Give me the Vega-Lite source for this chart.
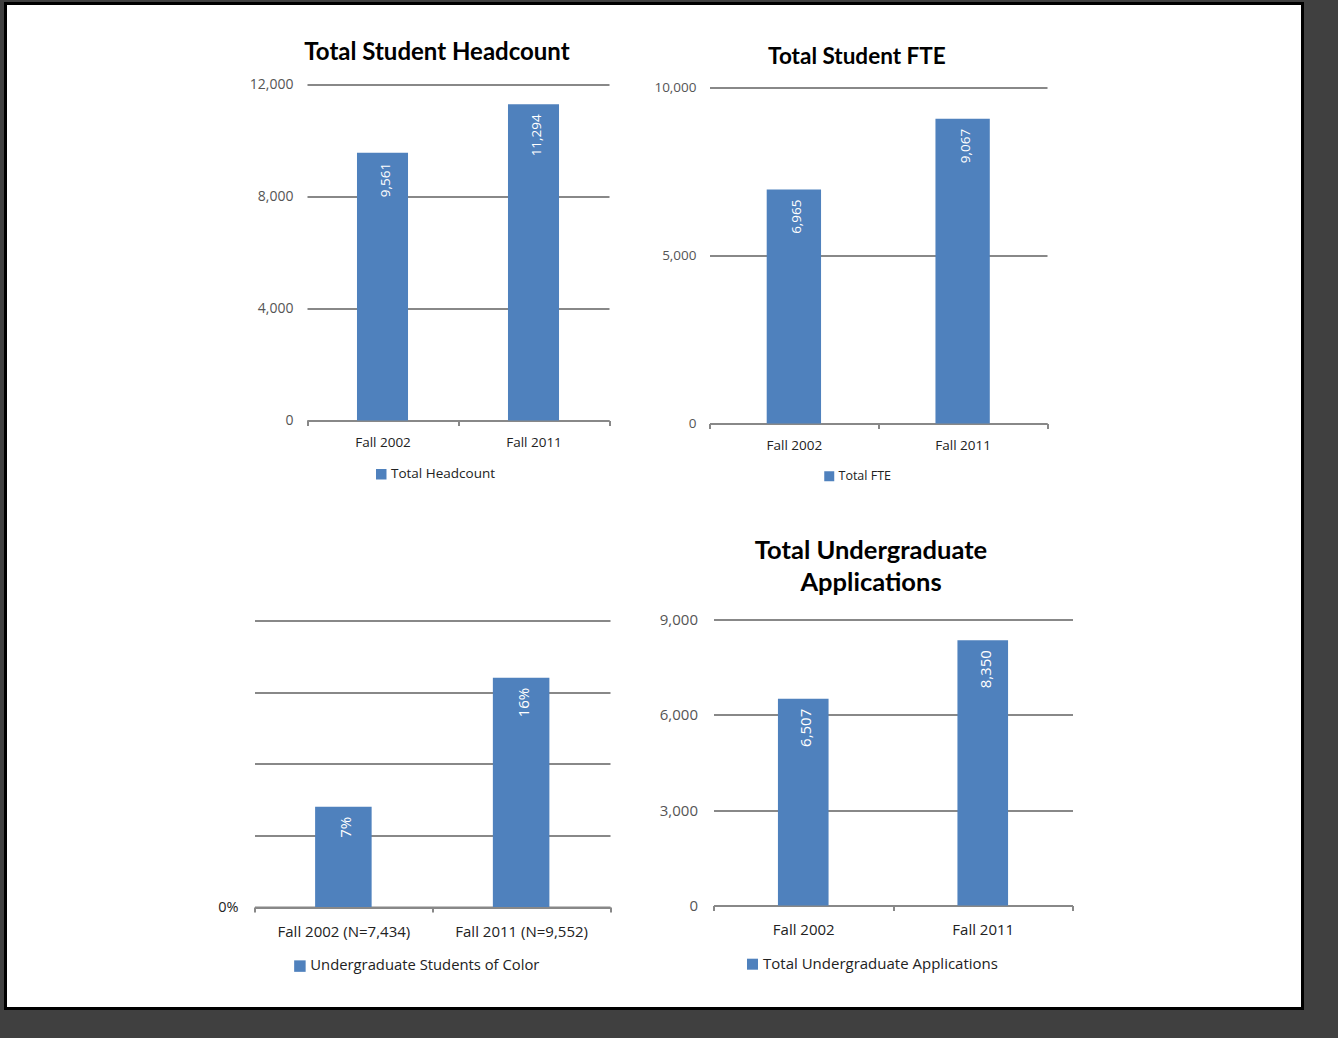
{
  "$schema": "https://vega.github.io/schema/vega-lite/v6.json",
  "width": 1297,
  "height": 1005,
  "autosize": {"type": "none"},
  "padding": {"left": 5.5, "top": 3.5, "right": 35.5, "bottom": 29.5},
  "background": "#404040",
  "datasets": {
    "headcount": [
      {"term": "Fall 2002", "value": 9561, "series": "Total Headcount"},
      {"term": "Fall 2011", "value": 11294, "series": "Total Headcount"}
    ],
    "fte": [
      {"term": "Fall 2002", "value": 6965, "series": "Total FTE"},
      {"term": "Fall 2011", "value": 9067, "series": "Total FTE"}
    ],
    "color": [
      {"term": "Fall 2002 (N=7,434)", "value": 0.07, "series": "Undergraduate Students of Color"},
      {"term": "Fall 2011 (N=9,552)", "value": 0.16, "series": "Undergraduate Students of Color"}
    ],
    "apps": [
      {"term": "Fall 2002", "value": 6507, "series": "Total Undergraduate Applications"},
      {"term": "Fall 2011", "value": 8350, "series": "Total Undergraduate Applications"}
    ]
  },
  "layer": [
    {
      "data": {"name": "headcount"},
      "encoding": {
        "x": {
          "field": "term", "type": "nominal", "sort": null,
          "scale": {"type": "band", "range": [301.5, 603.5], "paddingInner": 0, "paddingOuter": 0},
          "axis": {
            "orient": "bottom", "offset": -588, "grid": false, "tickBand": "extent", "tickSize": 5,
            "labelPadding": 10, "labelFontSize": 13.5, "labelColor": "#222222", "labelAngle": 0,
            "title": "Total Student Headcount", "titleX": 431, "titleY": -360.8, "titleAngle": 0,
            "titleAlign": "center", "titleBaseline": "alphabetic", "titleFontSize": 24
          }
        },
        "y": {
          "field": "value", "type": "quantitative",
          "scale": {"domain": [0, 12000], "range": [417, 81], "nice": false, "zero": true},
          "axis": {
            "orient": "left", "offset": -301.5, "values": [0, 4000, 8000, 12000], "format": ",.0f",
            "domain": false, "ticks": false, "tickSize": 0, "labelPadding": 14, "labelFontSize": 14,
            "grid": true, "title": null
          }
        }
      },
      "layer": [
        {
          "mark": {"type": "bar", "width": {"band": 0.338}},
          "encoding": {
            "color": {
              "field": "series", "type": "nominal", "scale": {"range": ["#4f81bd"]},
              "legend": {"orient": "none", "legendX": 369, "legendY": 464, "title": null, "labelFontSize": 13.5, "symbolSize": 110}
            }
          }
        },
        {
          "mark": {"type": "text", "angle": 270, "align": "right", "baseline": "middle", "dx": -10, "dy": 3, "font": "Open Sans", "fontSize": 13.5, "color": "#ffffff"},
          "encoding": {"text": {"field": "value", "type": "quantitative", "format": ","}}
        }
      ]
    },
    {
      "data": {"name": "fte"},
      "encoding": {
        "x": {
          "field": "term", "type": "nominal", "sort": null,
          "scale": {"type": "band", "range": [704, 1041.5], "paddingInner": 0, "paddingOuter": 0},
          "axis": {
            "orient": "bottom", "offset": -585, "grid": false, "tickBand": "extent", "tickSize": 5,
            "labelPadding": 10, "labelFontSize": 13.5, "labelColor": "#222222", "labelAngle": 0,
            "title": "Total Student FTE", "titleX": 850.9, "titleY": -360.2, "titleAngle": 0,
            "titleAlign": "center", "titleBaseline": "alphabetic", "titleFontSize": 22.5
          }
        },
        "y": {
          "field": "value", "type": "quantitative",
          "scale": {"domain": [0, 10000], "range": [420, 84], "nice": false, "zero": true},
          "axis": {
            "orient": "left", "offset": -704, "values": [0, 5000, 10000], "format": ",.0f",
            "domain": false, "ticks": false, "tickSize": 0, "labelPadding": 13.5, "labelFontSize": 13.5,
            "grid": true, "title": null
          }
        }
      },
      "layer": [
        {
          "mark": {"type": "bar", "width": {"band": 0.322}},
          "encoding": {
            "color": {
              "field": "series", "type": "nominal", "scale": {"range": ["#4f81bd"]},
              "legend": {"orient": "none", "legendX": 817.5, "legendY": 466.5, "title": null, "labelFontSize": 12.5, "symbolSize": 100}
            }
          }
        },
        {
          "mark": {"type": "text", "angle": 270, "align": "right", "baseline": "middle", "dx": -10, "dy": 3, "font": "Open Sans", "fontSize": 13.5, "color": "#ffffff"},
          "encoding": {"text": {"field": "value", "type": "quantitative", "format": ","}}
        }
      ]
    },
    {
      "data": {"name": "color"},
      "encoding": {
        "x": {
          "field": "term", "type": "nominal", "sort": null,
          "scale": {"type": "band", "range": [249, 604.5], "paddingInner": 0, "paddingOuter": 0},
          "axis": {
            "orient": "bottom", "offset": -101.5, "grid": false, "tickBand": "extent", "tickSize": 5,
            "labelPadding": 12, "labelFontSize": 15, "labelColor": "#222222", "labelAngle": 0, "labelLimit": 300,
            "title": null
          }
        },
        "y": {
          "field": "value", "type": "quantitative",
          "scale": {"domain": [0, 0.2], "range": [903.5, 617], "nice": false, "zero": true},
          "axis": {
            "orient": "left", "offset": -249, "values": [0, 0.05, 0.1, 0.15, 0.2],
            "labelExpr": "datum.value == 0 ? '0%' : ''",
            "domain": false, "ticks": false, "tickSize": 0, "labelPadding": 16.5, "labelFontSize": 14.5, "labelColor": "#222222",
            "grid": true, "title": null
          }
        }
      },
      "layer": [
        {
          "mark": {"type": "bar", "width": {"band": 0.318}},
          "encoding": {
            "color": {
              "field": "series", "type": "nominal", "scale": {"range": ["#4f81bd"]},
              "legend": {"orient": "none", "legendX": 287, "legendY": 955.2, "title": null, "labelFontSize": 14.8, "symbolSize": 132}
            }
          }
        },
        {
          "mark": {"type": "text", "angle": 270, "align": "right", "baseline": "middle", "dx": -10, "dy": 3, "font": "Open Sans", "fontSize": 15, "color": "#ffffff"},
          "encoding": {"text": {"field": "value", "type": "quantitative", "format": ".0%"}}
        }
      ]
    },
    {
      "data": {"name": "apps"},
      "encoding": {
        "x": {
          "field": "term", "type": "nominal", "sort": null,
          "scale": {"type": "band", "range": [708, 1067], "paddingInner": 0, "paddingOuter": 0},
          "axis": {
            "orient": "bottom", "offset": -103, "grid": false, "tickBand": "extent", "tickSize": 5,
            "labelPadding": 12, "labelFontSize": 15, "labelColor": "#222222", "labelAngle": 0,
            "title": ["Total Undergraduate", "Applications"], "titleX": 865, "titleY": -346.8, "titleAngle": 0,
            "titleAlign": "center", "titleBaseline": "alphabetic", "titleFontSize": 25.5, "titleLineHeight": 32.3
          }
        },
        "y": {
          "field": "value", "type": "quantitative",
          "scale": {"domain": [0, 9000], "range": [902, 616], "nice": false, "zero": true},
          "axis": {
            "orient": "left", "offset": -708, "values": [0, 3000, 6000, 9000], "format": ",.0f",
            "domain": false, "ticks": false, "tickSize": 0, "labelPadding": 16, "labelFontSize": 15,
            "grid": true, "title": null
          }
        }
      },
      "layer": [
        {
          "mark": {"type": "bar", "width": {"band": 0.282}},
          "encoding": {
            "color": {
              "field": "series", "type": "nominal", "scale": {"range": ["#4f81bd"]},
              "legend": {"orient": "none", "legendX": 739.5, "legendY": 953.2, "title": null, "labelFontSize": 15, "symbolSize": 121}
            }
          }
        },
        {
          "mark": {"type": "text", "angle": 270, "align": "right", "baseline": "middle", "dx": -10, "dy": 3, "font": "Open Sans", "fontSize": 15, "color": "#ffffff"},
          "encoding": {"text": {"field": "value", "type": "quantitative", "format": ","}}
        }
      ]
    }
  ],
  "resolve": {
    "scale": {"x": "independent", "y": "independent", "color": "independent"},
    "axis": {"x": "independent", "y": "independent"},
    "legend": {"color": "independent"}
  },
  "config": {
    "view": {"stroke": "#000000", "strokeWidth": 3, "fill": "#ffffff"},
    "axis": {
      "labelFont": "Open Sans", "labelColor": "#555555",
      "titleFont": "Lato", "titleFontWeight": "bold", "titleColor": "#000000",
      "gridColor": "#888888", "gridWidth": 2, "gridOpacity": 1,
      "domainColor": "#888888", "domainWidth": 2,
      "tickColor": "#888888", "tickWidth": 2,
      "labelOverlap": false
    },
    "legend": {
      "padding": 0, "symbolType": "square", "symbolStrokeWidth": 0, "symbolOpacity": 1,
      "labelFont": "Open Sans", "labelColor": "#222222", "labelOffset": 3, "labelLimit": 400
    }
  }
}
